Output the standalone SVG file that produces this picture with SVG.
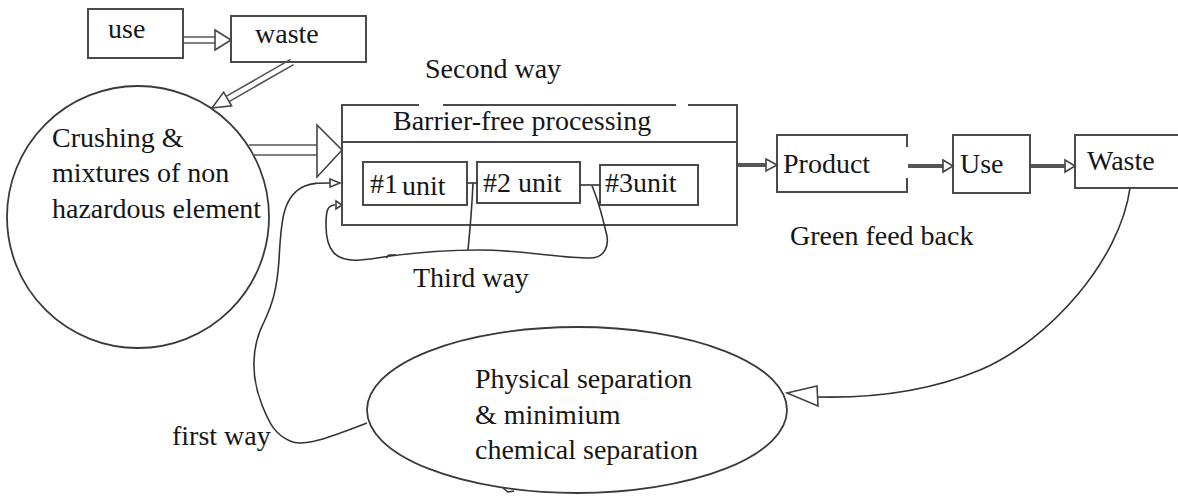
<svg xmlns="http://www.w3.org/2000/svg" width="1178" height="497" viewBox="0 0 1178 497">
  <style>
    .box { fill: #fff; stroke: #4a4a4a; stroke-width: 2; }
    .shape { fill: #fff; stroke: #3a3a3a; stroke-width: 1.8; }
    .t { font-family: "Liberation Serif", "Times New Roman", serif; font-size: 28px; fill: #161616; }
    .ln { fill: none; stroke: #333; stroke-width: 1.6; }
    .dbl { fill: none; stroke: #555; stroke-width: 1.6; }
    .bar { fill: none; stroke: #555; stroke-width: 4; }
    .head { fill: #fff; stroke: #444; stroke-width: 1.6; stroke-linejoin: miter; }
    .gap { stroke: #fff; stroke-width: 3; }
  </style>
  <rect width="1178" height="497" fill="#fff"/>

  <!-- nodes -->
  <g id="node-use">
    <rect class="box" x="88" y="9" width="95" height="49"/>
    <text class="t" x="108" y="38">use</text>
  </g>
  <g id="node-waste-in">
    <rect class="box" x="231" y="16" width="135" height="46"/>
    <text class="t" x="255" y="43">waste</text>
  </g>
  <g id="node-crushing">
    <circle class="shape" cx="138" cy="217" r="131"/>
    <text class="t" x="52" y="147">Crushing &amp;</text>
    <text class="t" x="52" y="182">mixtures of non</text>
    <text class="t" x="52" y="218">hazardous element</text>
  </g>
  <g id="node-barrier-free">
    <rect class="box" x="342" y="105" width="395" height="120"/>
    <!-- breaks in the top border -->
    <line class="gap" x1="419" y1="105" x2="443" y2="105"/>
    <line class="gap" x1="676" y1="105" x2="688" y2="105"/>
    <line class="box" x1="342" y1="142" x2="737" y2="142"/>
    <text class="t" x="393" y="130">Barrier-free processing</text>
  </g>
  <g id="node-unit1">
    <rect class="box" x="363" y="162" width="104" height="43"/>
    <text class="t" x="370" y="193">#1</text>
    <text class="t" x="402" y="195">unit</text>
  </g>
  <g id="node-unit2">
    <rect class="box" x="477" y="162" width="103" height="41"/>
    <text class="t" x="483" y="192">#2 unit</text>
  </g>
  <g id="node-unit3">
    <rect class="box" x="600" y="165" width="98" height="40"/>
    <text class="t" x="605" y="192">#3unit</text>
  </g>
  <g id="node-product">
    <rect x="777" y="135" width="130" height="57" fill="#fff"/>
    <path class="box" fill="none" d="M907,147 V135 H777 V192 H907 V178"/>
    <text class="t" x="783" y="173">Product</text>
  </g>
  <g id="node-use-out">
    <rect class="box" x="953" y="135" width="77" height="58"/>
    <text class="t" x="960" y="173">Use</text>
  </g>
  <g id="node-waste-out">
    <rect class="box" x="1075" y="135" width="110" height="53"/>
    <text class="t" x="1087" y="170">Waste</text>
  </g>
  <g id="node-separation">
    <ellipse class="shape" cx="577" cy="410" rx="210" ry="83"/>
    <path class="ln" d="M503,488 l5,4 l6,-1"/>
    <text class="t" x="475" y="388">Physical separation</text>
    <text class="t" x="475" y="424">&amp; minimium</text>
    <text class="t" x="475" y="459">chemical separation</text>
  </g>

  <!-- free labels -->
  <g id="labels">
    <text class="t" x="425" y="78">Second way</text>
    <text class="t" x="413" y="287">Third way</text>
    <text class="t" x="790" y="245">Green feed back</text>
    <text class="t" x="172" y="445">first way</text>
  </g>

  <!-- connectors -->
  <g id="connectors">
    <!-- use to waste -->
    <line class="dbl" x1="183" y1="37" x2="216" y2="37"/>
    <line class="dbl" x1="183" y1="43" x2="216" y2="43"/>
    <polygon class="head" points="215,30 231,40 215,50"/>

    <!-- waste to crushing -->
    <line class="dbl" x1="293.5" y1="64.6" x2="229.1" y2="101.6"/>
    <line class="dbl" x1="290.5" y1="59.4" x2="226.1" y2="96.4"/>
    <polygon class="head" points="212,108 231.6,105.9 223.6,92.1"/>

    <!-- crushing to barrier-free processing -->
    <line class="dbl" x1="249" y1="145" x2="318" y2="145"/>
    <line class="dbl" x1="253" y1="155" x2="318" y2="155"/>
    <polygon class="head" points="317,125 342,150 317,177"/>

    <!-- processing chain -->
    <line class="bar" x1="738" y1="165" x2="767" y2="165"/>
    <polygon class="head" points="766,159 777,165 766,171"/>
    <line class="bar" x1="908" y1="166" x2="944" y2="166"/>
    <polygon class="head" points="943,160 953,166 943,172"/>
    <line class="bar" x1="1031" y1="166" x2="1066" y2="166"/>
    <polygon class="head" points="1065,160 1075,166 1065,172"/>

    <!-- unit links -->
    <line class="ln" x1="467" y1="183" x2="477" y2="183"/>
    <line class="ln" x1="580" y1="185" x2="600" y2="185"/>

    <!-- third way loop -->
    <path class="ln" d="M473,183 C472,205 470,230 468,250"/>
    <path class="ln" d="M335,205 C327,205 326,212 326,225 C326,250 335,262 360,260 C375,259 382,257 390,256 C420,252 450,250 480,250 C520,250 560,258 590,258 C605,258 610,245 606,232 C602,215 596,195 592,186"/>
    <path class="ln" d="M386,258 l3,-3 h7"/>
    <polygon class="head" points="336,201 342,205 336,209"/>

    <!-- first way -->
    <path class="ln" d="M367,423 C335,435 305,448 290,441 C275,434 270,425 262,405 C250,375 252,345 264,322 C272,305 277,290 279,260 C281,220 283,195 305,186 C312,183 318,183 330,183"/>
    <polygon class="head" points="330,179 340,183 330,187"/>

    <!-- green feed back -->
    <path class="ln" d="M1130,188 C1120,260 1050,340 980,370 C920,395 860,398 818,397"/>
    <polygon class="head" points="787,393 817,386 818,406"/>
  </g>
</svg>
